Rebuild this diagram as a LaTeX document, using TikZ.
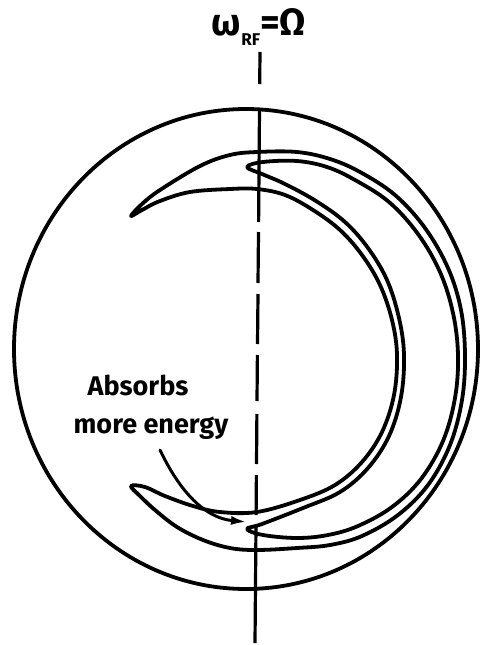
\documentclass[tikz,border=0pt]{standalone}
\usepackage{fontspec}
\setmainfont{Fira Sans}
\usetikzlibrary{arrows.meta}
\begin{document}
\begin{tikzpicture}[x=1pt,y=-1pt, line cap=round, line join=round,
  ink/.style={line width=3.8pt, draw=black},
  axisline/.style={line width=3.2pt, draw=black, line cap=butt},
  lbl/.style={font=\bfseries\fontsize{27}{30}\selectfont, anchor=base, inner sep=0pt},
  toplbl/.style={font=\bfseries\fontsize{38}{40}\selectfont, anchor=base, inner sep=0pt}]
\useasboundingbox (0,0) rectangle (480,645);

% outer circle
\draw[ink] (246,349) ellipse [x radius=232pt, y radius=240pt];

% big crescent
\draw[ink] plot[smooth cycle, tension=0.6] coordinates {
(131,216) (142,204) (160,190) (200,166) (230,155) (257,152) (297,152) (330,159) (360,172) (395,195) (425,228) (448,268) (461,310) (465,355) (462,400) (450,445) (428,485) (398,515) (362,536) (330,545) (297,548) (257,550) (230,548) (203,540) (177,527) (155,510) (140,496) (131,486) (145,487) (165,496) (193,506) (220,512) (257,512) (300,500) (335,485) (362,462) (382,432) (394,395) (397,355) (392,320) (380,285) (362,255) (340,230) (313,210) (285,195) (257,189) (230,189) (190,192) (160,201) (142,210)};

% inner crescent
\draw[ink] plot[smooth cycle, tension=0.6] coordinates {
(247,167) (263,162) (297,161) (327,167) (355,180) (389,202) (418,234) (440,272) (453,313) (458,355) (455,398) (443,441) (421,479) (392,507) (358,526) (328,535) (297,538) (263,535) (247,529) (262,524) (303,508) (340,492) (368,468) (389,436) (401,397) (404,355) (399,318) (387,280) (368,248) (345,222) (316,201) (285,184) (262,174)};

% dashed axis
\draw[axisline] (260,52) -- (259.7,84)
  (259.5,108) -- (258.6,222)
  (258.5,232) -- (258,283)
  (258,294) -- (257.5,344)
  (257.4,355) -- (257,401)
  (256.9,414) -- (256.5,464)
  (256.4,475) -- (256.1,515)
  (256,525) -- (255,643);

% labels
\node[toplbl] (lab) at (259,35) {ω\raisebox{-0.28em}{\fontsize{17}{17}\selectfont RF}=Ω};
\node[lbl] (t1) at (138,395) {Absorbs};
\node[lbl] (t2) at (151,433) {more energy};

% arrow
\coordinate (arS) at (160,450);
\coordinate (arE) at (247,522);
\draw[line width=3pt, -{Latex[length=16pt,width=9pt]}] (arS) .. controls (180,492) and (205,518) .. (arE);
\end{tikzpicture}
\end{document}
